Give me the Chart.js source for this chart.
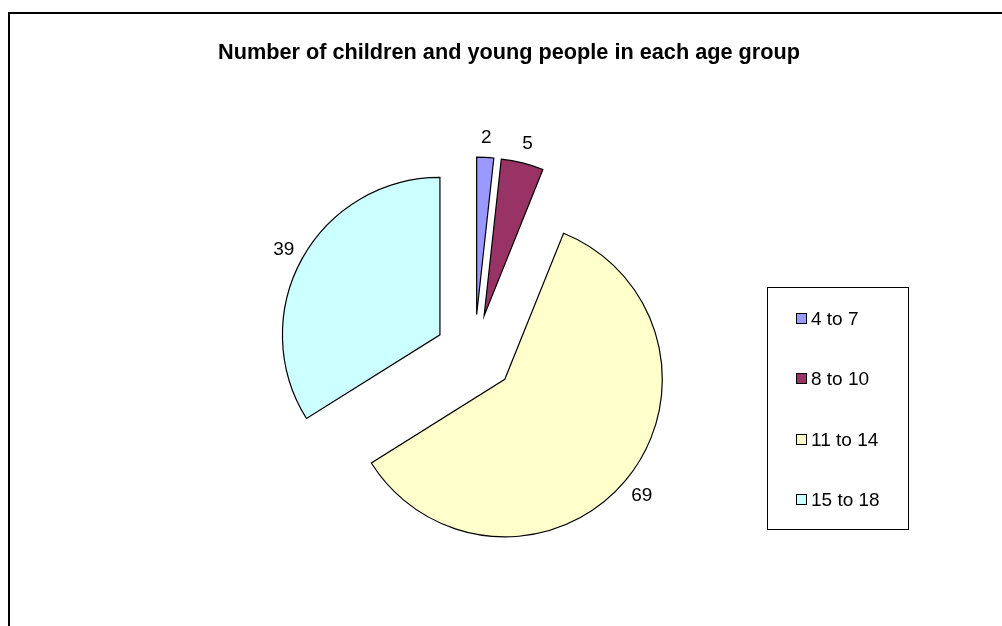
<!DOCTYPE html>
<html>
<head>
<meta charset="utf-8">
<title>Children and young people by age group</title>
<script src="https://cdn.jsdelivr.net/npm/chart.js@4"></script>
<style>
  html, body { margin: 0; padding: 0; background: #fff; }
  canvas { display: block; }
</style>
</head>
<body>
<canvas id="ageChart" width="1002" height="626"></canvas>
<script>
const chartTitle = "Number of children and young people in each age group";
const ageGroups = ["4 to 7", "8 to 10", "11 to 14", "15 to 18"];
const counts = [2, 5, 69, 39];
const sliceColors = ["#9999FF", "#993366", "#FFFFCC", "#CCFFFF"];

const FONT = '"Liberation Sans", Arial, sans-serif';
const explodeBy = 39.5;   // px every slice is pulled out from the centre
const labelGap = 21;      // px between the arc edge and the value label

// outer frame + title
const frame = {
  id: "frame",
  beforeDraw(chart) {
    const ctx = chart.ctx;
    ctx.save();
    ctx.fillStyle = "#fff";
    ctx.fillRect(0, 0, chart.width, chart.height);
    ctx.strokeStyle = "#000";
    ctx.lineWidth = 2;
    ctx.strokeRect(9, 13, 1200, 800);
    ctx.fillStyle = "#000";
    ctx.font = "bold 21.7px " + FONT;
    ctx.textAlign = "center";
    ctx.textBaseline = "alphabetic";
    ctx.fillText(chartTitle, 509, 59);
    ctx.restore();
  },
};

// draw each slice pushed out along its middle angle
const explode = {
  id: "explode",
  beforeDatasetDraw(chart, args) {
    const ctx = chart.ctx;
    args.meta.data.forEach((arc) => {
      const mid = (arc.startAngle + arc.endAngle) / 2;
      ctx.save();
      ctx.translate(Math.cos(mid) * explodeBy, Math.sin(mid) * explodeBy);
      arc.draw(ctx);
      ctx.restore();
    });
    return false;
  },
};

// value labels outside the slices
const valueLabels = {
  id: "valueLabels",
  afterDatasetsDraw(chart) {
    const ctx = chart.ctx;
    const meta = chart.getDatasetMeta(0);
    const values = chart.data.datasets[0].data;
    ctx.save();
    ctx.font = "19px " + FONT;
    ctx.fillStyle = "#000";
    ctx.textAlign = "center";
    ctx.textBaseline = "alphabetic";
    meta.data.forEach((arc, i) => {
      const mid = (arc.startAngle + arc.endAngle) / 2;
      const r = arc.outerRadius + explodeBy + labelGap;
      const x = arc.x + Math.cos(mid) * r;
      const y = arc.y + Math.sin(mid) * r;
      ctx.fillText(String(values[i]), x, y + 6.8);
    });
    ctx.restore();
  },
};

// boxed legend on the right
const boxLegend = {
  id: "boxLegend",
  afterDraw(chart) {
    const ctx = chart.ctx;
    const ds = chart.data.datasets[0];
    ctx.save();
    ctx.strokeStyle = "#000";
    ctx.lineWidth = 1;
    ctx.strokeRect(767.5, 287.5, 141, 242);
    ctx.font = "19px " + FONT;
    ctx.textAlign = "left";
    ctx.textBaseline = "alphabetic";
    chart.data.labels.forEach((label, i) => {
      const cy = 318 + i * 60.4;
      ctx.fillStyle = ds.backgroundColor[i];
      ctx.fillRect(796.5, Math.round(cy - 5) + 0.5, 10, 10);
      ctx.strokeStyle = "#000";
      ctx.strokeRect(796.5, Math.round(cy - 5) + 0.5, 10, 10);
      ctx.fillStyle = "#000";
      ctx.fillText(label, 811, cy + 6.8);
    });
    ctx.restore();
  },
};

new Chart(document.getElementById("ageChart"), {
  type: "pie",
  data: {
    labels: ageGroups,
    datasets: [
      {
        data: counts,
        backgroundColor: sliceColors,
        borderColor: "#000",
        borderWidth: 1.2,
        borderJoinStyle: "miter",
      },
    ],
  },
  options: {
    responsive: false,
    devicePixelRatio: 1,
    animation: false,
    radius: 157.5,
    layout: { padding: { left: 100, right: 153, top: 120, bottom: 38 } },
    plugins: {
      legend: { display: false },
      title: { display: false },
      tooltip: { enabled: false },
    },
    events: [],
  },
  plugins: [frame, explode, valueLabels, boxLegend],
});
</script>
</body>
</html>
